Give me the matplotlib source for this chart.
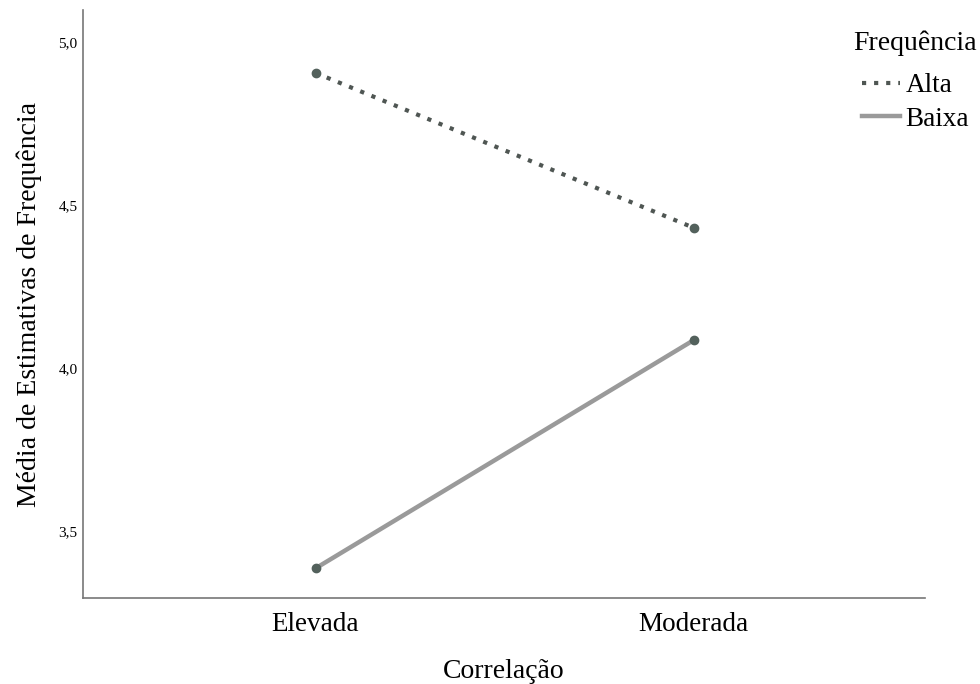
import matplotlib
matplotlib.use("Agg")
import matplotlib.pyplot as plt

categories = ["Elevada", "Moderada"]
alta = [4.905, 4.43]
baixa = [3.385, 4.085]
yticks = [3.5, 4.0, 4.5, 5.0]
ytick_labels = ["3,5", "4,0", "4,5", "5,0"]

plt.rcParams['font.family'] = ['Liberation Serif', 'DejaVu Serif']

W, H = 980, 684
fig = plt.figure(figsize=(W / 100, H / 100), dpi=100)
ax = fig.add_axes([83/W, 1-598/H, (925-83)/W, (598-10)/H])

x = list(range(len(categories)))
ax.plot(x, alta, linestyle=(0, (1, 1.9)), color="#4f5653", linewidth=3.0,
        label="Alta", zorder=2)
ax.plot(x, baixa, linestyle="-", color="#9a9a9a", linewidth=3.2,
        label="Baixa", zorder=2)
ax.plot(x, alta, linestyle="none", marker="o", markersize=6, color="#53615c", zorder=3)
ax.plot(x, baixa, linestyle="none", marker="o", markersize=6, color="#53615c", zorder=3)

ax.set_xlim(-0.615, 1.612)
ax.set_ylim(3.294, 5.098)
ax.set_xticks(x)
ax.set_xticklabels(categories, fontsize=19.5)
ax.set_yticks(yticks)
ax.set_yticklabels(ytick_labels, fontsize=11)
ax.tick_params(axis="both", length=0)
ax.tick_params(axis="x", pad=10)
ax.tick_params(axis="y", pad=4)

for s in ["top", "right"]:
    ax.spines[s].set_visible(False)
for s in ["left", "bottom"]:
    ax.spines[s].set_color("#777777")
    ax.spines[s].set_linewidth(1.2)

ax.set_xlabel("Correlação", fontsize=20, labelpad=16)
ax.set_ylabel("Média de Estimativas de Frequência", fontsize=20, labelpad=12)

leg = ax.legend(loc="upper left", bbox_to_anchor=(862/W, 1-73/H),
                bbox_transform=fig.transFigure,
                frameon=False, fontsize=19.5,
                handlelength=1.4, handletextpad=0.2, labelspacing=0.33,
                borderaxespad=0.0, borderpad=0.0)
fig.text(853/W, 1-43/H, "Frequência", fontsize=20, ha="left", va="center")

fig.savefig("out.png", dpi=100)
